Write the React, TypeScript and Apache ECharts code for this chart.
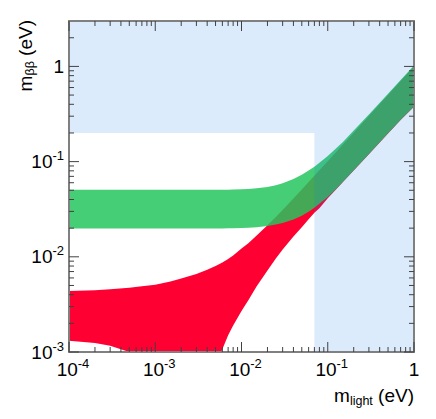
import React, { useEffect, useRef } from 'react';
import * as echarts from 'echarts';

// Axis ranges
const X_MIN = 1e-4;
const X_MAX = 1;
const Y_MIN = 1e-3;
const Y_MAX = 3;

// Lightest neutrino mass (eV) sample points
const M_LIGHT = [
  1e-4, 2e-4, 3e-4, 5e-4, 7e-4, 1e-3, 1.5e-3, 2e-3, 3e-3, 4e-3, 5e-3, 6e-3, 7e-3, 8e-3,
  1e-2, 1.2e-2, 1.5e-2, 2e-2, 2.5e-2, 3e-2, 4e-2, 5e-2, 6e-2, 7e-2, 8e-2,
  0.1, 0.12, 0.15, 0.2, 0.3, 0.5, 0.7, 1,
];

// Inverted hierarchy band (green)
const IH_UPPER = [
  0.0505, 0.0505, 0.0505, 0.0505, 0.0505, 0.0505, 0.0505, 0.0505, 0.0505, 0.0505, 0.0505, 0.0506, 0.0507, 0.0508,
  0.0512, 0.0516, 0.0525, 0.0542, 0.0565, 0.0592, 0.0655, 0.0728, 0.0805, 0.0885, 0.097,
  0.1145, 0.133, 0.161, 0.212, 0.313, 0.515, 0.72, 1.025,
];
const IH_LOWER = [
  0.0198, 0.0198, 0.0198, 0.0198, 0.0198, 0.0198, 0.0198, 0.0198, 0.0198, 0.0198, 0.0198, 0.0198, 0.0199, 0.0199,
  0.0201, 0.0202, 0.0205, 0.0211, 0.0219, 0.0226, 0.0247, 0.027, 0.0298, 0.0328, 0.036,
  0.0425, 0.0497, 0.0615, 0.081, 0.12, 0.198, 0.275, 0.38,
];

// Normal hierarchy band (red)
const NH_UPPER = [
  0.00437, 0.00445, 0.00455, 0.00472, 0.0049, 0.0051, 0.0055, 0.0059, 0.0066, 0.0073, 0.008, 0.0087, 0.0095, 0.0103,
  0.0122, 0.0139, 0.0167, 0.0215, 0.0262, 0.031, 0.041, 0.051, 0.061, 0.071, 0.081,
  0.101, 0.121, 0.151, 0.201, 0.301, 0.501, 0.701, 1.0,
];
const NH_LOWER = [
  0.00131, 0.00124, 0.00116, 0.001, 0.0008, 0.0005, 0.0002, 0.00005, 0.00001, 0.0003, 0.00072, 0.00107, 0.0015, 0.0019,
  0.0027, 0.0035, 0.0049, 0.0072, 0.0096, 0.0119, 0.0163, 0.0205, 0.0248, 0.029, 0.0323,
  0.0412, 0.0492, 0.0612, 0.0808, 0.1195, 0.197, 0.274, 0.378,
];

// Allowed (unshaded) region limits
const EXCL_M = 0.07;
const EXCL_MBB = 0.2;

// Tick positions
const MAJOR_X = [1e-4, 1e-3, 1e-2, 1e-1, 1];
const MAJOR_Y = [1e-3, 1e-2, 1e-1, 1];
const MINOR_MULT = [2, 3, 4, 5, 6, 7, 8, 9];
const MINOR_X_DECADES = [1e-4, 1e-3, 1e-2, 1e-1];
const MINOR_Y_DECADES = [1e-3, 1e-2, 1e-1];
const MINOR_Y_EXTRA = [2];

const FONT = '"Liberation Sans", Arial, Helvetica, sans-serif';
const FRAME = '#808080';
const TICK = '#404040';
const RED = '#ff0033';
const GREEN = 'rgba(37,197,93,0.85)';
const BLUE = 'rgba(22,121,235,0.15)';

const MINOR_X = MINOR_X_DECADES.flatMap((d) => MINOR_MULT.map((k) => k * d));
const MINOR_Y = MINOR_Y_DECADES.flatMap((d) => MINOR_MULT.map((k) => k * d)).concat(MINOR_Y_EXTRA);

function bandSeries(name: string, upper: number[], lower: number[], color: string, z: number) {
  return {
    type: 'custom',
    name,
    clip: true,
    silent: true,
    z,
    data: [[M_LIGHT[0], upper[0]]],
    renderItem: (params: any, api: any) => {
      const pts: number[][] = [];
      for (let i = 0; i < M_LIGHT.length; i++) pts.push(api.coord([M_LIGHT[i], upper[i]]));
      for (let i = M_LIGHT.length - 1; i >= 0; i--) pts.push(api.coord([M_LIGHT[i], lower[i]]));
      return { type: 'polygon', shape: { points: pts }, style: { fill: color } };
    },
  };
}

function xTickSeries(values: number[], len: number) {
  return {
    type: 'custom',
    silent: true,
    clip: false,
    z: 20,
    data: values.map((v) => [v, Y_MIN]),
    renderItem: (params: any, api: any) => {
      const cs = params.coordSys;
      const p = api.coord([api.value(0), Y_MIN]);
      const x = p[0];
      const b = cs.y + cs.height;
      return {
        type: 'group',
        children: [
          { type: 'line', shape: { x1: x, y1: b, x2: x, y2: b - len }, style: { stroke: TICK, lineWidth: 1 } },
          { type: 'line', shape: { x1: x, y1: cs.y, x2: x, y2: cs.y + len }, style: { stroke: TICK, lineWidth: 1 } },
        ],
      };
    },
  };
}

function yTickSeries(values: number[], len: number) {
  return {
    type: 'custom',
    silent: true,
    clip: false,
    z: 20,
    data: values.map((v) => [X_MIN, v]),
    renderItem: (params: any, api: any) => {
      const cs = params.coordSys;
      const p = api.coord([X_MIN, api.value(1)]);
      const y = p[1];
      const r = cs.x + cs.width;
      return {
        type: 'group',
        children: [
          { type: 'line', shape: { x1: cs.x, y1: y, x2: cs.x + len, y2: y }, style: { stroke: TICK, lineWidth: 1 } },
          { type: 'line', shape: { x1: r, y1: y, x2: r - len, y2: y }, style: { stroke: TICK, lineWidth: 1 } },
        ],
      };
    },
  };
}

const labelFmt = (v: number) => {
  const l = Math.log10(v);
  const e = Math.round(l);
  if (Math.abs(l - e) > 1e-6) return '';
  if (e === 0) return '{o|1}';
  return '{b|10}{s|' + e + '}';
};

const richX = {
  b: { fontSize: 19, fontFamily: FONT, color: '#000', lineHeight: 25, padding: [0, 0, 0, 8] },
  o: { fontSize: 19, fontFamily: FONT, color: '#000', lineHeight: 25 },
  s: { fontSize: 13, fontFamily: FONT, color: '#000', lineHeight: 13, verticalAlign: 'top' },
};
const richY = {
  b: { fontSize: 19, fontFamily: FONT, color: '#000', lineHeight: 25 },
  o: { fontSize: 19, fontFamily: FONT, color: '#000', lineHeight: 25 },
  s: { fontSize: 13, fontFamily: FONT, color: '#000', lineHeight: 13, verticalAlign: 'top' },
};

const titleRich = {
  m: { fontSize: 19, fontFamily: FONT, color: '#000', lineHeight: 23 },
  sub: { fontSize: 12.5, fontFamily: FONT, color: '#000', lineHeight: 12, verticalAlign: 'bottom' },
};

const axisBase = {
  type: 'log',
  logBase: 10,
  z: 10,
  axisLine: { show: true, onZero: false, lineStyle: { color: FRAME, width: 2 } },
  axisTick: { show: false },
  minorTick: { show: false },
  splitLine: { show: false },
  minorSplitLine: { show: false },
};

export default function App() {
  const ref = useRef<HTMLDivElement>(null);
  useEffect(() => {
    if (!ref.current) return;
    const chart = echarts.init(ref.current, undefined, { renderer: 'svg' });
    const option: any = {
      animation: false,
      backgroundColor: '#fff',
      grid: { left: 69, right: 22, top: 21, bottom: 67, containLabel: false },
      xAxis: [
        {
          ...axisBase,
          min: X_MIN,
          max: X_MAX,
          position: 'bottom',
          axisLabel: { show: true, formatter: labelFmt, rich: richX, margin: 5, showMinLabel: true, showMaxLabel: true },
        },
        { ...axisBase, min: X_MIN, max: X_MAX, position: 'top', axisLabel: { show: false } },
      ],
      yAxis: [
        {
          ...axisBase,
          min: Y_MIN,
          max: Y_MAX,
          position: 'left',
          axisLabel: { show: true, formatter: labelFmt, rich: richY, margin: 5, showMinLabel: true },
        },
        { ...axisBase, min: Y_MIN, max: Y_MAX, position: 'right', axisLabel: { show: false } },
      ],
      series: [
        bandSeries('Normal hierarchy', NH_UPPER, NH_LOWER, RED, 2),
        bandSeries('Inverted hierarchy', IH_UPPER, IH_LOWER, GREEN, 3),
        {
          type: 'custom',
          name: 'Excluded',
          clip: true,
          silent: true,
          z: 4,
          data: [[X_MIN, Y_MAX]],
          renderItem: (params: any, api: any) => {
            const pts = [
              api.coord([X_MIN, EXCL_MBB]),
              api.coord([EXCL_M, EXCL_MBB]),
              api.coord([EXCL_M, Y_MIN]),
              api.coord([X_MAX, Y_MIN]),
              api.coord([X_MAX, Y_MAX]),
              api.coord([X_MIN, Y_MAX]),
            ];
            return { type: 'polygon', shape: { points: pts }, style: { fill: BLUE } };
          },
        },
        xTickSeries(MAJOR_X, 10),
        xTickSeries(MINOR_X, 5),
        yTickSeries(MAJOR_Y, 10),
        yTickSeries(MINOR_Y, 5),
      ],
      graphic: [
        {
          type: 'text',
          x: 414,
          y: 395.5,
          style: {
            text: '{m|m}{sub|light}{m| (eV)}',
            rich: titleRich,
            align: 'right',
            verticalAlign: 'middle',
            textAlign: 'right',
            textVerticalAlign: 'middle',
          },
        },
        {
          type: 'text',
          x: 25,
          y: 20,
          rotation: Math.PI / 2,
          style: {
            text: '{m|m}{sub|ββ}{m| (eV)}',
            rich: titleRich,
            align: 'right',
            verticalAlign: 'middle',
            textAlign: 'right',
            textVerticalAlign: 'middle',
          },
        },
      ],
    };
    chart.setOption(option);
    return () => chart.dispose();
  }, []);
  return (
    <div
      ref={ref}
      style={{ position: 'fixed', left: 0, top: 0, width: 436, height: 419, background: '#fff' }}
    />
  );
}
